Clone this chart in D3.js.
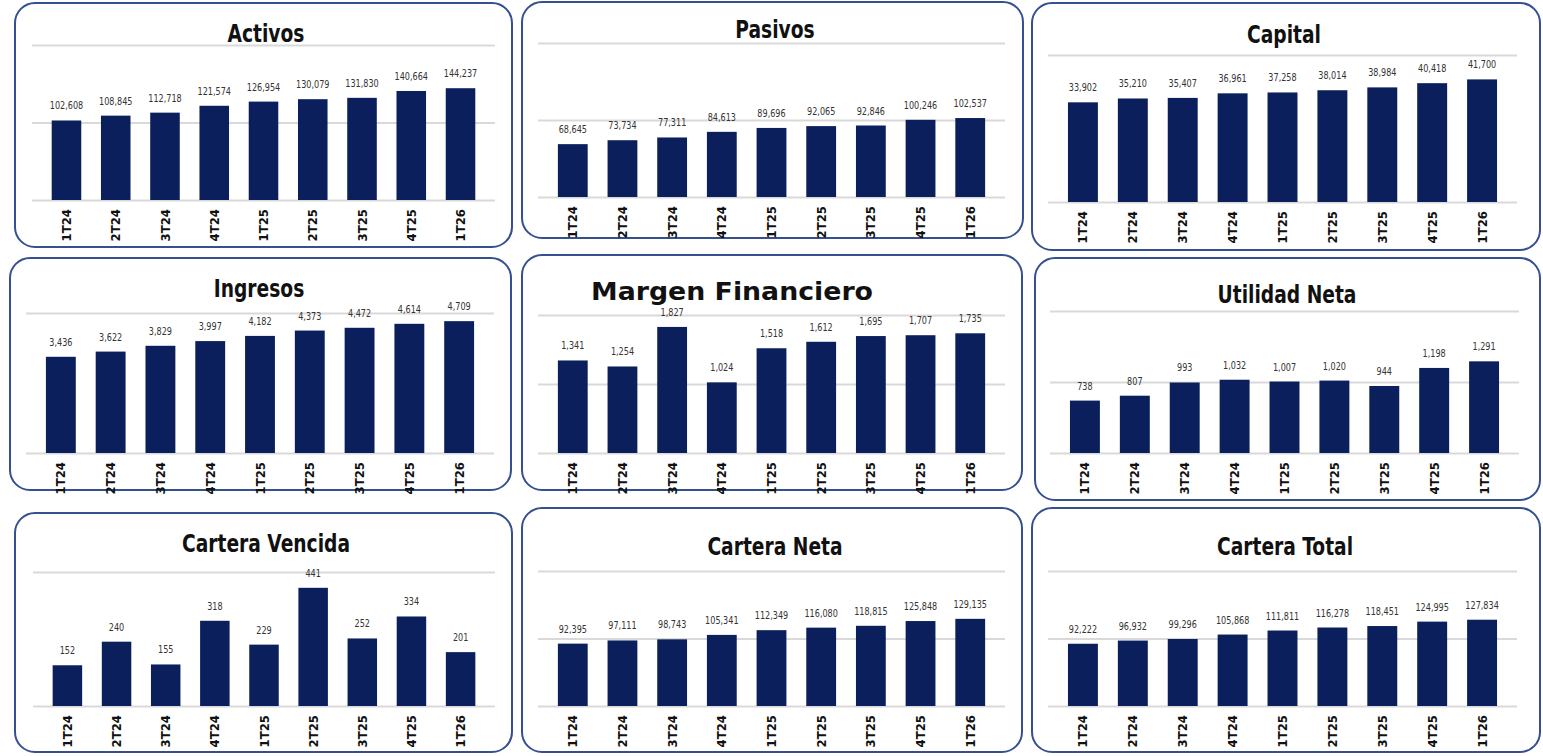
<!DOCTYPE html>
<meta charset="utf-8">
<style>
  body { margin: 0; background: #fff; }
  svg { display: block; }
</style>
<script src="https://d3js.org/d3.v7.min.js"></script>
<div id="chart"></div>
<script>

    // quarters and values
    const quarters = ["1T24", "2T24", "3T24", "4T24", "1T25", "2T25", "3T25", "4T25", "1T26"];
    const titles = ["Activos", "Pasivos", "Capital", "Ingresos", "Margen Financiero", "Utilidad Neta",
                    "Cartera Vencida", "Cartera Neta", "Cartera Total"];

    const activos = [102608, 108845, 112718, 121574, 126954, 130079, 131830, 140664, 144237];
    const pasivos = [68645, 73734, 77311, 84613, 89696, 92065, 92846, 100246, 102537];
    const capital = [33902, 35210, 35407, 36961, 37258, 38014, 38984, 40418, 41700];
    const ingresos = [3436, 3622, 3829, 3997, 4182, 4373, 4472, 4614, 4709];
    const margen = [1341, 1254, 1827, 1024, 1518, 1612, 1695, 1707, 1735];
    const utilidad = [738, 807, 993, 1032, 1007, 1020, 944, 1198, 1291];
    const vencida = [152, 240, 155, 318, 229, 441, 252, 334, 201];
    const neta = [92395, 97111, 98743, 105341, 112349, 116080, 118815, 125848, 129135];
    const total = [92222, 96932, 99296, 105868, 111811, 116278, 118451, 124995, 127834];

    const series = [activos, pasivos, capital, ingresos, margen, utilidad, vencida, neta, total];

    // value axis of each small chart: top of the scale and gridlines
    const yMax = [200000, 200000, 50000, 5000, 2000, 2000, 500, 200000, 200000];
    const gridTicks = [
        [0, 100000, 200000], [0, 100000, 200000], [0, 50000], [0, 5000], [0, 1000, 2000],
        [0, 1000, 2000], [0, 500], [0, 100000, 200000], [0, 100000, 200000]
    ];

    // panel boxes and plot areas (pixels); tx/tw = title centre and squeeze
    const layout = [
        {x: 15, y: 3, w: 497, h: 244, px0: 32, px1: 495, top: 45, base: 200, ty: 42, tx: 266, tw: 0.83},
        {x: 522, y: 2, w: 501, h: 236, px0: 538, px1: 1005, top: 43, base: 197, ty: 38, tx: 775, tw: 0.83},
        {x: 1032, y: 3, w: 508, h: 247, px0: 1048, px1: 1517, top: 55, base: 202, ty: 43, tx: 1284, tw: 0.83},
        {x: 10, y: 258, w: 501, h: 232, px0: 26, px1: 494, top: 313, base: 453, ty: 297, tx: 259, tw: 0.83},
        {x: 522, y: 255, w: 500, h: 235, px0: 538, px1: 1005, top: 315, base: 453, ty: 300, tx: 732, tw: 0.83},
        {x: 1035, y: 258, w: 505, h: 242, px0: 1050, px1: 1519, top: 311, base: 453, ty: 303, tx: 1287, tw: 0.83},
        {x: 15, y: 513, w: 497, h: 239, px0: 33, px1: 495, top: 572, base: 706, ty: 552, tx: 266, tw: 0.83},
        {x: 522, y: 508, w: 500, h: 244, px0: 538, px1: 1005, top: 571, base: 706, ty: 555, tx: 775, tw: 0.83},
        {x: 1032, y: 508, w: 508, h: 244, px0: 1048, px1: 1517, top: 571, base: 706, ty: 555, tx: 1285, tw: 0.83}
    ];

    const font = "'DejaVu Sans Condensed', 'DejaVu Sans', sans-serif";
    const barColor = "#0a1f5c";

    const svg = d3.select("#chart")
        .append("svg")
        .attr("width", 1543)
        .attr("height", 756);

    series.forEach(function (values, i) {
        const L = layout[i];

        // rounded frame
        svg.append("rect")
            .attr("x", L.x).attr("y", L.y)
            .attr("width", L.w).attr("height", L.h)
            .attr("rx", 20).attr("ry", 20)
            .attr("fill", "#fff")
            .attr("stroke", "#34508f")
            .attr("stroke-width", 2);

        const x = d3.scaleBand().domain(quarters).range([L.px0, L.px1]).padding(0.4);
        const y = d3.scaleLinear().domain([0, yMax[i]]).range([L.base, L.top]);

        // gridlines
        const grid = svg.append("g")
            .attr("transform", "translate(" + L.px0 + ",0)")
            .call(d3.axisLeft(y).tickValues(gridTicks[i]).tickSize(-(L.px1 - L.px0)).tickFormat(""));
        grid.select(".domain").remove();
        grid.selectAll(".tick line").attr("stroke", "#d9d9d9").attr("stroke-width", 2);

        // title (squeezed to look like a condensed face)
        const tl = svg.append("text")
            .attr("transform", "translate(" + L.tx + "," + L.ty + ") scale(" + L.tw + ",1)")
            .attr("text-anchor", "middle")
            .attr("font-family", font)
            .attr("font-weight", "bold")
            .attr("font-size", "25px")
            .attr("fill", "#111")
            .text(titles[i]);
        if (i === 4) {
            // the Margen Financiero title is set wider in the reference
            tl.attr("textLength", 282 / L.tw).attr("lengthAdjust", "spacingAndGlyphs");
        }

        // bars
        svg.append("g").selectAll("rect")
            .data(values)
            .enter()
            .append("rect")
            .attr("x", function (d, k) { return x(quarters[k]); })
            .attr("y", function (d) { return y(d); })
            .attr("width", x.bandwidth())
            .attr("height", function (d) { return L.base - y(d); })
            .attr("fill", barColor);

        // value labels
        svg.append("g").selectAll("text")
            .data(values)
            .enter()
            .append("text")
            .attr("transform", function (d, k) {
                return "translate(" + (x(quarters[k]) + x.bandwidth() / 2) + "," + (y(d) - 11) + ") scale(0.9,1)";
            })
            .attr("text-anchor", "middle")
            .attr("font-family", font)
            .attr("font-size", "10px")
            .attr("fill", "#333")
            .text(function (d) { return d3.format(",")(d); });

        // category axis, rotated labels
        const xAxis = svg.append("g")
            .attr("transform", "translate(0," + L.base + ")")
            .call(d3.axisBottom(x).tickSize(0));
        xAxis.select(".domain").remove();
        xAxis.selectAll("text")
            .attr("transform", "rotate(-90)")
            .attr("text-anchor", "end")
            .attr("x", -9)
            .attr("y", 0)
            .attr("dy", "0.35em")
            .attr("font-family", font)
            .attr("font-weight", "bold")
            .attr("font-size", "13px")
            .attr("fill", "#111");
    });

</script>
